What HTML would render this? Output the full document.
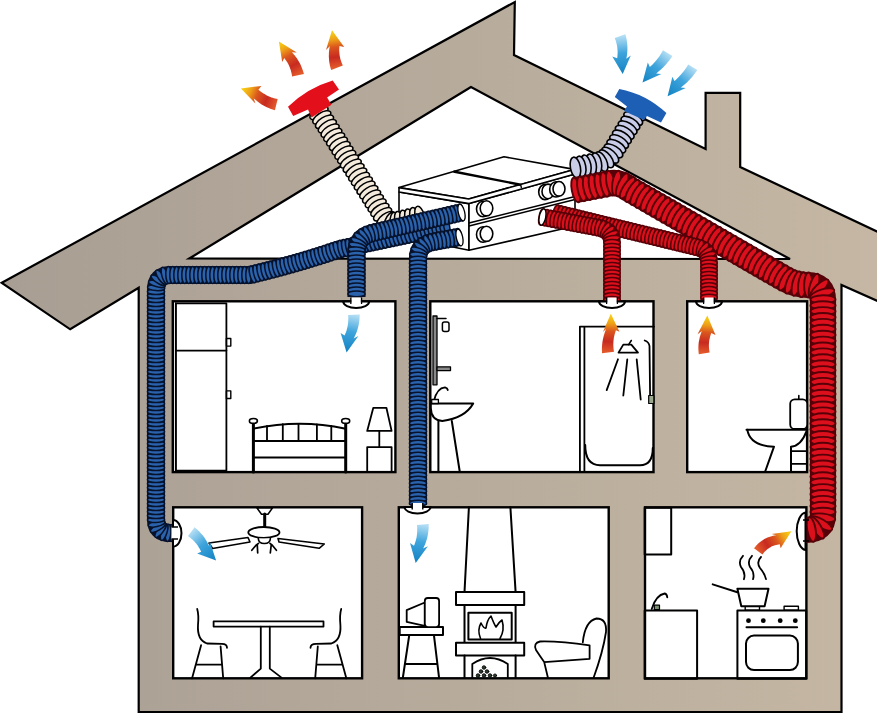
<!DOCTYPE html>
<html><head><meta charset="utf-8">
<style>
html,body{margin:0;padding:0;background:#fff;width:877px;height:713px;overflow:hidden;font-family:"Liberation Sans",sans-serif;}
svg{display:block}
</style></head><body>
<svg width="877" height="713" viewBox="0 0 877 713">
<defs>
<linearGradient id="taupe" x1="0" y1="0" x2="1" y2="0">
<stop offset="0" stop-color="#a89e93"/><stop offset="0.6" stop-color="#b9ad9d"/><stop offset="1" stop-color="#c5b7a3"/>
</linearGradient>
<linearGradient id="ag0" gradientUnits="userSpaceOnUse" x1="276.3" y1="104.7" x2="240.9" y2="88.6"><stop offset="0" stop-color="#e35a2a"/><stop offset="0.28" stop-color="#c82a20"/><stop offset="0.55" stop-color="#da561e"/><stop offset="0.75" stop-color="#eea018"/><stop offset="0.92" stop-color="#f6c814"/></linearGradient>
<linearGradient id="ag1" gradientUnits="userSpaceOnUse" x1="298" y1="75.2" x2="278.9" y2="41.4"><stop offset="0" stop-color="#e35a2a"/><stop offset="0.28" stop-color="#c82a20"/><stop offset="0.55" stop-color="#da561e"/><stop offset="0.75" stop-color="#eea018"/><stop offset="0.92" stop-color="#f6c814"/></linearGradient>
<linearGradient id="ag2" gradientUnits="userSpaceOnUse" x1="337" y1="67.7" x2="332.0" y2="30.2"><stop offset="0" stop-color="#e35a2a"/><stop offset="0.28" stop-color="#c82a20"/><stop offset="0.55" stop-color="#da561e"/><stop offset="0.75" stop-color="#eea018"/><stop offset="0.92" stop-color="#f6c814"/></linearGradient>
<linearGradient id="ag3" gradientUnits="userSpaceOnUse" x1="620" y1="36.1" x2="622.7" y2="74.1"><stop offset="0" stop-color="#b4def4"/><stop offset="0.45" stop-color="#3ea4dc"/><stop offset="1" stop-color="#1282c2"/></linearGradient>
<linearGradient id="ag4" gradientUnits="userSpaceOnUse" x1="667.7" y1="53.1" x2="642.5" y2="82.5"><stop offset="0" stop-color="#b4def4"/><stop offset="0.45" stop-color="#3ea4dc"/><stop offset="1" stop-color="#1282c2"/></linearGradient>
<linearGradient id="ag5" gradientUnits="userSpaceOnUse" x1="692.8" y1="67.2" x2="667.6" y2="96.2"><stop offset="0" stop-color="#b4def4"/><stop offset="0.45" stop-color="#3ea4dc"/><stop offset="1" stop-color="#1282c2"/></linearGradient>
<linearGradient id="ag6" gradientUnits="userSpaceOnUse" x1="353.9" y1="314.7" x2="346.6" y2="352.5"><stop offset="0" stop-color="#b4def4"/><stop offset="0.45" stop-color="#3ea4dc"/><stop offset="1" stop-color="#1282c2"/></linearGradient>
<linearGradient id="ag7" gradientUnits="userSpaceOnUse" x1="191.3" y1="531.7" x2="216.1" y2="560.6"><stop offset="0" stop-color="#b4def4"/><stop offset="0.45" stop-color="#3ea4dc"/><stop offset="1" stop-color="#1282c2"/></linearGradient>
<linearGradient id="ag8" gradientUnits="userSpaceOnUse" x1="422.8" y1="524.5" x2="415.7" y2="562.9"><stop offset="0" stop-color="#b4def4"/><stop offset="0.45" stop-color="#3ea4dc"/><stop offset="1" stop-color="#1282c2"/></linearGradient>
<linearGradient id="ag9" gradientUnits="userSpaceOnUse" x1="608" y1="352.5" x2="610.8" y2="313.8"><stop offset="0" stop-color="#e35a2a"/><stop offset="0.28" stop-color="#c82a20"/><stop offset="0.55" stop-color="#da561e"/><stop offset="0.75" stop-color="#eea018"/><stop offset="0.92" stop-color="#f6c814"/></linearGradient>
<linearGradient id="ag10" gradientUnits="userSpaceOnUse" x1="704.2" y1="353.3" x2="707.3" y2="315.4"><stop offset="0" stop-color="#e35a2a"/><stop offset="0.28" stop-color="#c82a20"/><stop offset="0.55" stop-color="#da561e"/><stop offset="0.75" stop-color="#eea018"/><stop offset="0.92" stop-color="#f6c814"/></linearGradient>
<linearGradient id="ag11" gradientUnits="userSpaceOnUse" x1="758.2" y1="551.4" x2="791.4" y2="531.3"><stop offset="0" stop-color="#e35a2a"/><stop offset="0.28" stop-color="#c82a20"/><stop offset="0.55" stop-color="#da561e"/><stop offset="0.75" stop-color="#eea018"/><stop offset="0.92" stop-color="#f6c814"/></linearGradient>
</defs>
<path d="M1.8,282.8 L514.8,2 L514,55 L705.6,149 L705.6,92.8 L740.2,92.8 L740.2,167 L880,233 L880,302 L841.5,285 L841.5,712 L138.7,712 L138.7,287.7 L70.2,329.3 Z" fill="url(#taupe)" stroke="#000" stroke-width="2.2" stroke-linejoin="miter"/>
<path d="M471,87 L189.3,258.5 L790,259 Z" fill="#fff" stroke="#000" stroke-width="2.2"/>
<g fill="#fff" stroke="#000" stroke-width="2.4">
<rect x="172.8" y="301.3" width="222.6" height="170.8"/>
<rect x="430.3" y="301.3" width="223.2" height="170.8"/>
<rect x="687.2" y="301.3" width="119.9" height="170.8"/>
<rect x="173.2" y="507.3" width="188.9" height="171"/>
<rect x="398.8" y="507.3" width="209.9" height="171"/>
<rect x="645" y="507.3" width="161.4" height="171"/>
</g>
<g fill="#fff" stroke="#000" stroke-width="1.6" stroke-linejoin="round">
<path d="M399,192 L469,203.6 L469,250.3 L399,236 Z"/>
<path d="M469,203.6 L575,174 L575,226 L469,250.3 Z"/>
<path d="M399,187.6 L504,156.8 L574.4,169.4 L468.7,199 Z"/>
<path d="M399,187.6 L399,192 L469,203.6 L575,174 L574.4,169.4 L468.7,199 Z"/>
<path d="M453.5,171.5 L520.6,184.7" fill="none" stroke-width="2.4"/><path d="M520.6,184.7 L521.5,188" fill="none" stroke-width="1.4"/>
<path d="M469,223 L575,196.5 M469,226 L575,199.5" fill="none"/>
<ellipse cx="483" cy="209" rx="6.5" ry="7.8"/><ellipse cx="486.5" cy="208.3" rx="6.3" ry="7.6"/>
<ellipse cx="483" cy="234.5" rx="6.5" ry="7.8"/><ellipse cx="486.5" cy="233.8" rx="6.3" ry="7.6"/>
<ellipse cx="545" cy="192" rx="6.3" ry="7.6"/><ellipse cx="548" cy="191.4" rx="6" ry="7.3"/>
<ellipse cx="556" cy="189.4" rx="6.3" ry="7.6"/><ellipse cx="559" cy="188.8" rx="6" ry="7.3"/>
</g>
<g fill="#f4ebdd" stroke="#000" stroke-width="1.5"><ellipse cx="319.0" cy="113.0" rx="4.6" ry="10.25" transform="rotate(58 319.0 113.0)"/><ellipse cx="321.8" cy="117.4" rx="4.6" ry="10.25" transform="rotate(58 321.8 117.4)"/><ellipse cx="324.5" cy="121.8" rx="4.6" ry="10.25" transform="rotate(58 324.5 121.8)"/><ellipse cx="327.3" cy="126.2" rx="4.6" ry="10.25" transform="rotate(58 327.3 126.2)"/><ellipse cx="330.1" cy="130.6" rx="4.6" ry="10.25" transform="rotate(58 330.1 130.6)"/><ellipse cx="332.8" cy="135.0" rx="4.6" ry="10.25" transform="rotate(58 332.8 135.0)"/><ellipse cx="335.6" cy="139.4" rx="4.6" ry="10.25" transform="rotate(58 335.6 139.4)"/><ellipse cx="338.4" cy="143.8" rx="4.6" ry="10.25" transform="rotate(58 338.4 143.8)"/><ellipse cx="341.1" cy="148.2" rx="4.6" ry="10.25" transform="rotate(58 341.1 148.2)"/><ellipse cx="343.9" cy="152.6" rx="4.6" ry="10.25" transform="rotate(58 343.9 152.6)"/><ellipse cx="346.7" cy="157.0" rx="4.6" ry="10.25" transform="rotate(58 346.7 157.0)"/><ellipse cx="349.4" cy="161.4" rx="4.6" ry="10.25" transform="rotate(58 349.4 161.4)"/><ellipse cx="352.2" cy="165.8" rx="4.6" ry="10.25" transform="rotate(58 352.2 165.8)"/><ellipse cx="355.0" cy="170.2" rx="4.6" ry="10.25" transform="rotate(58 355.0 170.2)"/><ellipse cx="357.7" cy="174.6" rx="4.6" ry="10.25" transform="rotate(58 357.7 174.6)"/><ellipse cx="360.5" cy="179.0" rx="4.6" ry="10.25" transform="rotate(58 360.5 179.0)"/><ellipse cx="363.3" cy="183.4" rx="4.6" ry="10.25" transform="rotate(58 363.3 183.4)"/><ellipse cx="366.0" cy="187.8" rx="4.6" ry="10.25" transform="rotate(58 366.0 187.8)"/><ellipse cx="368.8" cy="192.2" rx="4.6" ry="10.25" transform="rotate(58 368.8 192.2)"/><ellipse cx="371.6" cy="196.6" rx="4.6" ry="10.25" transform="rotate(58 371.6 196.6)"/><ellipse cx="374.3" cy="201.1" rx="4.6" ry="10.25" transform="rotate(58 374.3 201.1)"/><ellipse cx="377.1" cy="205.5" rx="4.6" ry="10.25" transform="rotate(58 377.1 205.5)"/><ellipse cx="379.9" cy="209.9" rx="4.6" ry="10.25" transform="rotate(58 379.9 209.9)"/><ellipse cx="382.6" cy="214.3" rx="4.6" ry="10.25" transform="rotate(58 382.6 214.3)"/><ellipse cx="385.5" cy="218.6" rx="4.6" ry="10.25" transform="rotate(53 385.5 218.6)"/><ellipse cx="389.5" cy="221.8" rx="4.6" ry="10.25" transform="rotate(22 389.5 221.8)"/><ellipse cx="394.6" cy="222.5" rx="4.6" ry="10.25" transform="rotate(-3 394.6 222.5)"/><ellipse cx="399.7" cy="221.5" rx="4.6" ry="10.25" transform="rotate(-15 399.7 221.5)"/><ellipse cx="404.8" cy="220.2" rx="4.6" ry="10.25" transform="rotate(-15 404.8 220.2)"/><ellipse cx="409.8" cy="218.9" rx="4.6" ry="10.25" transform="rotate(-15 409.8 218.9)"/><ellipse cx="414.8" cy="217.6" rx="4.6" ry="10.25" transform="rotate(-15 414.8 217.6)"/><ellipse cx="419.9" cy="216.3" rx="4.6" ry="10.25" transform="rotate(-15 419.9 216.3)"/></g>
<path d="M172,533 L170,533 Q156,533 156,519 L156,290 Q156,275 170,275 L250,275 Q300,263 340,249 L449,226" fill="none" stroke="#07122c" stroke-width="18.099999999999998" stroke-linejoin="round"/><g fill="#2a62ac" stroke="#07122c" stroke-width="1.5"><ellipse cx="172.0" cy="533.0" rx="2.9" ry="8.6" transform="rotate(180 172.0 533.0)"/><ellipse cx="168.0" cy="532.9" rx="2.9" ry="8.6" transform="rotate(-176 168.0 532.9)"/><ellipse cx="164.1" cy="532.2" rx="2.9" ry="8.6" transform="rotate(-162 164.1 532.2)"/><ellipse cx="160.5" cy="530.4" rx="2.9" ry="8.6" transform="rotate(-143 160.5 530.4)"/><ellipse cx="157.9" cy="527.4" rx="2.9" ry="8.6" transform="rotate(-120 157.9 527.4)"/><ellipse cx="156.5" cy="523.7" rx="2.9" ry="8.6" transform="rotate(-103 156.5 523.7)"/><ellipse cx="156.0" cy="519.7" rx="2.9" ry="8.6" transform="rotate(-92 156.0 519.7)"/><ellipse cx="156.0" cy="515.7" rx="2.9" ry="8.6" transform="rotate(-90 156.0 515.7)"/><ellipse cx="156.0" cy="511.7" rx="2.9" ry="8.6" transform="rotate(-90 156.0 511.7)"/><ellipse cx="156.0" cy="507.7" rx="2.9" ry="8.6" transform="rotate(-90 156.0 507.7)"/><ellipse cx="156.0" cy="503.7" rx="2.9" ry="8.6" transform="rotate(-90 156.0 503.7)"/><ellipse cx="156.0" cy="499.7" rx="2.9" ry="8.6" transform="rotate(-90 156.0 499.7)"/><ellipse cx="156.0" cy="495.7" rx="2.9" ry="8.6" transform="rotate(-90 156.0 495.7)"/><ellipse cx="156.0" cy="491.7" rx="2.9" ry="8.6" transform="rotate(-90 156.0 491.7)"/><ellipse cx="156.0" cy="487.7" rx="2.9" ry="8.6" transform="rotate(-90 156.0 487.7)"/><ellipse cx="156.0" cy="483.7" rx="2.9" ry="8.6" transform="rotate(-90 156.0 483.7)"/><ellipse cx="156.0" cy="479.7" rx="2.9" ry="8.6" transform="rotate(-90 156.0 479.7)"/><ellipse cx="156.0" cy="475.7" rx="2.9" ry="8.6" transform="rotate(-90 156.0 475.7)"/><ellipse cx="156.0" cy="471.7" rx="2.9" ry="8.6" transform="rotate(-90 156.0 471.7)"/><ellipse cx="156.0" cy="467.7" rx="2.9" ry="8.6" transform="rotate(-90 156.0 467.7)"/><ellipse cx="156.0" cy="463.7" rx="2.9" ry="8.6" transform="rotate(-90 156.0 463.7)"/><ellipse cx="156.0" cy="459.7" rx="2.9" ry="8.6" transform="rotate(-90 156.0 459.7)"/><ellipse cx="156.0" cy="455.7" rx="2.9" ry="8.6" transform="rotate(-90 156.0 455.7)"/><ellipse cx="156.0" cy="451.7" rx="2.9" ry="8.6" transform="rotate(-90 156.0 451.7)"/><ellipse cx="156.0" cy="447.7" rx="2.9" ry="8.6" transform="rotate(-90 156.0 447.7)"/><ellipse cx="156.0" cy="443.7" rx="2.9" ry="8.6" transform="rotate(-90 156.0 443.7)"/><ellipse cx="156.0" cy="439.7" rx="2.9" ry="8.6" transform="rotate(-90 156.0 439.7)"/><ellipse cx="156.0" cy="435.7" rx="2.9" ry="8.6" transform="rotate(-90 156.0 435.7)"/><ellipse cx="156.0" cy="431.7" rx="2.9" ry="8.6" transform="rotate(-90 156.0 431.7)"/><ellipse cx="156.0" cy="427.7" rx="2.9" ry="8.6" transform="rotate(-90 156.0 427.7)"/><ellipse cx="156.0" cy="423.7" rx="2.9" ry="8.6" transform="rotate(-90 156.0 423.7)"/><ellipse cx="156.0" cy="419.7" rx="2.9" ry="8.6" transform="rotate(-90 156.0 419.7)"/><ellipse cx="156.0" cy="415.7" rx="2.9" ry="8.6" transform="rotate(-90 156.0 415.7)"/><ellipse cx="156.0" cy="411.7" rx="2.9" ry="8.6" transform="rotate(-90 156.0 411.7)"/><ellipse cx="156.0" cy="407.7" rx="2.9" ry="8.6" transform="rotate(-90 156.0 407.7)"/><ellipse cx="156.0" cy="403.7" rx="2.9" ry="8.6" transform="rotate(-90 156.0 403.7)"/><ellipse cx="156.0" cy="399.7" rx="2.9" ry="8.6" transform="rotate(-90 156.0 399.7)"/><ellipse cx="156.0" cy="395.7" rx="2.9" ry="8.6" transform="rotate(-90 156.0 395.7)"/><ellipse cx="156.0" cy="391.7" rx="2.9" ry="8.6" transform="rotate(-90 156.0 391.7)"/><ellipse cx="156.0" cy="387.7" rx="2.9" ry="8.6" transform="rotate(-90 156.0 387.7)"/><ellipse cx="156.0" cy="383.7" rx="2.9" ry="8.6" transform="rotate(-90 156.0 383.7)"/><ellipse cx="156.0" cy="379.7" rx="2.9" ry="8.6" transform="rotate(-90 156.0 379.7)"/><ellipse cx="156.0" cy="375.7" rx="2.9" ry="8.6" transform="rotate(-90 156.0 375.7)"/><ellipse cx="156.0" cy="371.7" rx="2.9" ry="8.6" transform="rotate(-90 156.0 371.7)"/><ellipse cx="156.0" cy="367.7" rx="2.9" ry="8.6" transform="rotate(-90 156.0 367.7)"/><ellipse cx="156.0" cy="363.7" rx="2.9" ry="8.6" transform="rotate(-90 156.0 363.7)"/><ellipse cx="156.0" cy="359.7" rx="2.9" ry="8.6" transform="rotate(-90 156.0 359.7)"/><ellipse cx="156.0" cy="355.7" rx="2.9" ry="8.6" transform="rotate(-90 156.0 355.7)"/><ellipse cx="156.0" cy="351.7" rx="2.9" ry="8.6" transform="rotate(-90 156.0 351.7)"/><ellipse cx="156.0" cy="347.7" rx="2.9" ry="8.6" transform="rotate(-90 156.0 347.7)"/><ellipse cx="156.0" cy="343.7" rx="2.9" ry="8.6" transform="rotate(-90 156.0 343.7)"/><ellipse cx="156.0" cy="339.7" rx="2.9" ry="8.6" transform="rotate(-90 156.0 339.7)"/><ellipse cx="156.0" cy="335.7" rx="2.9" ry="8.6" transform="rotate(-90 156.0 335.7)"/><ellipse cx="156.0" cy="331.7" rx="2.9" ry="8.6" transform="rotate(-90 156.0 331.7)"/><ellipse cx="156.0" cy="327.7" rx="2.9" ry="8.6" transform="rotate(-90 156.0 327.7)"/><ellipse cx="156.0" cy="323.7" rx="2.9" ry="8.6" transform="rotate(-90 156.0 323.7)"/><ellipse cx="156.0" cy="319.7" rx="2.9" ry="8.6" transform="rotate(-90 156.0 319.7)"/><ellipse cx="156.0" cy="315.7" rx="2.9" ry="8.6" transform="rotate(-90 156.0 315.7)"/><ellipse cx="156.0" cy="311.7" rx="2.9" ry="8.6" transform="rotate(-90 156.0 311.7)"/><ellipse cx="156.0" cy="307.7" rx="2.9" ry="8.6" transform="rotate(-90 156.0 307.7)"/><ellipse cx="156.0" cy="303.7" rx="2.9" ry="8.6" transform="rotate(-90 156.0 303.7)"/><ellipse cx="156.0" cy="299.7" rx="2.9" ry="8.6" transform="rotate(-90 156.0 299.7)"/><ellipse cx="156.0" cy="295.7" rx="2.9" ry="8.6" transform="rotate(-90 156.0 295.7)"/><ellipse cx="156.0" cy="291.7" rx="2.9" ry="8.6" transform="rotate(-90 156.0 291.7)"/><ellipse cx="156.1" cy="287.7" rx="2.9" ry="8.6" transform="rotate(-86 156.1 287.7)"/><ellipse cx="156.8" cy="283.8" rx="2.9" ry="8.6" transform="rotate(-74 156.8 283.8)"/><ellipse cx="158.4" cy="280.2" rx="2.9" ry="8.6" transform="rotate(-57 158.4 280.2)"/><ellipse cx="161.2" cy="277.3" rx="2.9" ry="8.6" transform="rotate(-35 161.2 277.3)"/><ellipse cx="164.8" cy="275.6" rx="2.9" ry="8.6" transform="rotate(-16 164.8 275.6)"/><ellipse cx="168.7" cy="275.0" rx="2.9" ry="8.6" transform="rotate(-3 168.7 275.0)"/><ellipse cx="172.7" cy="275.0" rx="2.9" ry="8.6" transform="rotate(0 172.7 275.0)"/><ellipse cx="176.7" cy="275.0" rx="2.9" ry="8.6" transform="rotate(0 176.7 275.0)"/><ellipse cx="180.7" cy="275.0" rx="2.9" ry="8.6" transform="rotate(0 180.7 275.0)"/><ellipse cx="184.7" cy="275.0" rx="2.9" ry="8.6" transform="rotate(0 184.7 275.0)"/><ellipse cx="188.7" cy="275.0" rx="2.9" ry="8.6" transform="rotate(0 188.7 275.0)"/><ellipse cx="192.7" cy="275.0" rx="2.9" ry="8.6" transform="rotate(0 192.7 275.0)"/><ellipse cx="196.7" cy="275.0" rx="2.9" ry="8.6" transform="rotate(0 196.7 275.0)"/><ellipse cx="200.7" cy="275.0" rx="2.9" ry="8.6" transform="rotate(0 200.7 275.0)"/><ellipse cx="204.7" cy="275.0" rx="2.9" ry="8.6" transform="rotate(0 204.7 275.0)"/><ellipse cx="208.7" cy="275.0" rx="2.9" ry="8.6" transform="rotate(0 208.7 275.0)"/><ellipse cx="212.7" cy="275.0" rx="2.9" ry="8.6" transform="rotate(0 212.7 275.0)"/><ellipse cx="216.7" cy="275.0" rx="2.9" ry="8.6" transform="rotate(0 216.7 275.0)"/><ellipse cx="220.7" cy="275.0" rx="2.9" ry="8.6" transform="rotate(0 220.7 275.0)"/><ellipse cx="224.7" cy="275.0" rx="2.9" ry="8.6" transform="rotate(0 224.7 275.0)"/><ellipse cx="228.7" cy="275.0" rx="2.9" ry="8.6" transform="rotate(0 228.7 275.0)"/><ellipse cx="232.7" cy="275.0" rx="2.9" ry="8.6" transform="rotate(0 232.7 275.0)"/><ellipse cx="236.7" cy="275.0" rx="2.9" ry="8.6" transform="rotate(0 236.7 275.0)"/><ellipse cx="240.7" cy="275.0" rx="2.9" ry="8.6" transform="rotate(0 240.7 275.0)"/><ellipse cx="244.7" cy="275.0" rx="2.9" ry="8.6" transform="rotate(0 244.7 275.0)"/><ellipse cx="248.7" cy="275.0" rx="2.9" ry="8.6" transform="rotate(0 248.7 275.0)"/><ellipse cx="252.7" cy="274.4" rx="2.9" ry="8.6" transform="rotate(-14 252.7 274.4)"/><ellipse cx="256.5" cy="273.4" rx="2.9" ry="8.6" transform="rotate(-14 256.5 273.4)"/><ellipse cx="260.4" cy="272.4" rx="2.9" ry="8.6" transform="rotate(-14 260.4 272.4)"/><ellipse cx="264.3" cy="271.5" rx="2.9" ry="8.6" transform="rotate(-14 264.3 271.5)"/><ellipse cx="268.2" cy="270.5" rx="2.9" ry="8.6" transform="rotate(-14 268.2 270.5)"/><ellipse cx="272.1" cy="269.5" rx="2.9" ry="8.6" transform="rotate(-15 272.1 269.5)"/><ellipse cx="275.9" cy="268.5" rx="2.9" ry="8.6" transform="rotate(-15 275.9 268.5)"/><ellipse cx="279.8" cy="267.4" rx="2.9" ry="8.6" transform="rotate(-15 279.8 267.4)"/><ellipse cx="283.6" cy="266.4" rx="2.9" ry="8.6" transform="rotate(-15 283.6 266.4)"/><ellipse cx="287.5" cy="265.3" rx="2.9" ry="8.6" transform="rotate(-16 287.5 265.3)"/><ellipse cx="291.4" cy="264.3" rx="2.9" ry="8.6" transform="rotate(-16 291.4 264.3)"/><ellipse cx="295.2" cy="263.2" rx="2.9" ry="8.6" transform="rotate(-16 295.2 263.2)"/><ellipse cx="299.0" cy="262.1" rx="2.9" ry="8.6" transform="rotate(-16 299.0 262.1)"/><ellipse cx="302.9" cy="260.9" rx="2.9" ry="8.6" transform="rotate(-16 302.9 260.9)"/><ellipse cx="306.7" cy="259.8" rx="2.9" ry="8.6" transform="rotate(-17 306.7 259.8)"/><ellipse cx="310.5" cy="258.6" rx="2.9" ry="8.6" transform="rotate(-17 310.5 258.6)"/><ellipse cx="314.4" cy="257.4" rx="2.9" ry="8.6" transform="rotate(-17 314.4 257.4)"/><ellipse cx="318.2" cy="256.3" rx="2.9" ry="8.6" transform="rotate(-18 318.2 256.3)"/><ellipse cx="322.0" cy="255.0" rx="2.9" ry="8.6" transform="rotate(-18 322.0 255.0)"/><ellipse cx="325.8" cy="253.8" rx="2.9" ry="8.6" transform="rotate(-18 325.8 253.8)"/><ellipse cx="329.6" cy="252.5" rx="2.9" ry="8.6" transform="rotate(-18 329.6 252.5)"/><ellipse cx="333.4" cy="251.3" rx="2.9" ry="8.6" transform="rotate(-19 333.4 251.3)"/><ellipse cx="337.2" cy="250.0" rx="2.9" ry="8.6" transform="rotate(-19 337.2 250.0)"/><ellipse cx="341.0" cy="248.8" rx="2.9" ry="8.6" transform="rotate(-12 341.0 248.8)"/><ellipse cx="344.9" cy="248.0" rx="2.9" ry="8.6" transform="rotate(-12 344.9 248.0)"/><ellipse cx="348.8" cy="247.1" rx="2.9" ry="8.6" transform="rotate(-12 348.8 247.1)"/><ellipse cx="352.7" cy="246.3" rx="2.9" ry="8.6" transform="rotate(-12 352.7 246.3)"/><ellipse cx="356.6" cy="245.5" rx="2.9" ry="8.6" transform="rotate(-12 356.6 245.5)"/><ellipse cx="360.6" cy="244.7" rx="2.9" ry="8.6" transform="rotate(-12 360.6 244.7)"/><ellipse cx="364.5" cy="243.8" rx="2.9" ry="8.6" transform="rotate(-12 364.5 243.8)"/><ellipse cx="368.4" cy="243.0" rx="2.9" ry="8.6" transform="rotate(-12 368.4 243.0)"/><ellipse cx="372.3" cy="242.2" rx="2.9" ry="8.6" transform="rotate(-12 372.3 242.2)"/><ellipse cx="376.2" cy="241.4" rx="2.9" ry="8.6" transform="rotate(-12 376.2 241.4)"/><ellipse cx="380.1" cy="240.5" rx="2.9" ry="8.6" transform="rotate(-12 380.1 240.5)"/><ellipse cx="384.0" cy="239.7" rx="2.9" ry="8.6" transform="rotate(-12 384.0 239.7)"/><ellipse cx="388.0" cy="238.9" rx="2.9" ry="8.6" transform="rotate(-12 388.0 238.9)"/><ellipse cx="391.9" cy="238.1" rx="2.9" ry="8.6" transform="rotate(-12 391.9 238.1)"/><ellipse cx="395.8" cy="237.2" rx="2.9" ry="8.6" transform="rotate(-12 395.8 237.2)"/><ellipse cx="399.7" cy="236.4" rx="2.9" ry="8.6" transform="rotate(-12 399.7 236.4)"/><ellipse cx="403.6" cy="235.6" rx="2.9" ry="8.6" transform="rotate(-12 403.6 235.6)"/><ellipse cx="407.5" cy="234.8" rx="2.9" ry="8.6" transform="rotate(-12 407.5 234.8)"/><ellipse cx="411.4" cy="233.9" rx="2.9" ry="8.6" transform="rotate(-12 411.4 233.9)"/><ellipse cx="415.4" cy="233.1" rx="2.9" ry="8.6" transform="rotate(-12 415.4 233.1)"/><ellipse cx="419.3" cy="232.3" rx="2.9" ry="8.6" transform="rotate(-12 419.3 232.3)"/><ellipse cx="423.2" cy="231.4" rx="2.9" ry="8.6" transform="rotate(-12 423.2 231.4)"/><ellipse cx="427.1" cy="230.6" rx="2.9" ry="8.6" transform="rotate(-12 427.1 230.6)"/><ellipse cx="431.0" cy="229.8" rx="2.9" ry="8.6" transform="rotate(-12 431.0 229.8)"/><ellipse cx="434.9" cy="229.0" rx="2.9" ry="8.6" transform="rotate(-12 434.9 229.0)"/><ellipse cx="438.8" cy="228.1" rx="2.9" ry="8.6" transform="rotate(-12 438.8 228.1)"/><ellipse cx="442.8" cy="227.3" rx="2.9" ry="8.6" transform="rotate(-12 442.8 227.3)"/><ellipse cx="446.7" cy="226.5" rx="2.9" ry="8.6" transform="rotate(-12 446.7 226.5)"/></g>
<path d="M461,212.5 L372,233 Q356.5,237 356.5,252 L356.5,297" fill="none" stroke="#07122c" stroke-width="18.099999999999998" stroke-linejoin="round"/><g fill="#2a62ac" stroke="#07122c" stroke-width="1.5"><ellipse cx="461.0" cy="212.5" rx="2.9" ry="8.6" transform="rotate(167 461.0 212.5)"/><ellipse cx="457.1" cy="213.4" rx="2.9" ry="8.6" transform="rotate(167 457.1 213.4)"/><ellipse cx="453.2" cy="214.3" rx="2.9" ry="8.6" transform="rotate(167 453.2 214.3)"/><ellipse cx="449.3" cy="215.2" rx="2.9" ry="8.6" transform="rotate(167 449.3 215.2)"/><ellipse cx="445.4" cy="216.1" rx="2.9" ry="8.6" transform="rotate(167 445.4 216.1)"/><ellipse cx="441.5" cy="217.0" rx="2.9" ry="8.6" transform="rotate(167 441.5 217.0)"/><ellipse cx="437.6" cy="217.9" rx="2.9" ry="8.6" transform="rotate(167 437.6 217.9)"/><ellipse cx="433.7" cy="218.8" rx="2.9" ry="8.6" transform="rotate(167 433.7 218.8)"/><ellipse cx="429.8" cy="219.7" rx="2.9" ry="8.6" transform="rotate(167 429.8 219.7)"/><ellipse cx="425.9" cy="220.6" rx="2.9" ry="8.6" transform="rotate(167 425.9 220.6)"/><ellipse cx="422.0" cy="221.5" rx="2.9" ry="8.6" transform="rotate(167 422.0 221.5)"/><ellipse cx="418.1" cy="222.4" rx="2.9" ry="8.6" transform="rotate(167 418.1 222.4)"/><ellipse cx="414.2" cy="223.3" rx="2.9" ry="8.6" transform="rotate(167 414.2 223.3)"/><ellipse cx="410.3" cy="224.2" rx="2.9" ry="8.6" transform="rotate(167 410.3 224.2)"/><ellipse cx="406.4" cy="225.1" rx="2.9" ry="8.6" transform="rotate(167 406.4 225.1)"/><ellipse cx="402.5" cy="226.0" rx="2.9" ry="8.6" transform="rotate(167 402.5 226.0)"/><ellipse cx="398.6" cy="226.9" rx="2.9" ry="8.6" transform="rotate(167 398.6 226.9)"/><ellipse cx="394.7" cy="227.8" rx="2.9" ry="8.6" transform="rotate(167 394.7 227.8)"/><ellipse cx="390.8" cy="228.7" rx="2.9" ry="8.6" transform="rotate(167 390.8 228.7)"/><ellipse cx="386.9" cy="229.6" rx="2.9" ry="8.6" transform="rotate(167 386.9 229.6)"/><ellipse cx="383.0" cy="230.5" rx="2.9" ry="8.6" transform="rotate(167 383.0 230.5)"/><ellipse cx="379.1" cy="231.4" rx="2.9" ry="8.6" transform="rotate(167 379.1 231.4)"/><ellipse cx="375.2" cy="232.3" rx="2.9" ry="8.6" transform="rotate(167 375.2 232.3)"/><ellipse cx="371.4" cy="233.2" rx="2.9" ry="8.6" transform="rotate(164 371.4 233.2)"/><ellipse cx="367.6" cy="234.5" rx="2.9" ry="8.6" transform="rotate(157 367.6 234.5)"/><ellipse cx="364.1" cy="236.4" rx="2.9" ry="8.6" transform="rotate(146 364.1 236.4)"/><ellipse cx="361.0" cy="239.0" rx="2.9" ry="8.6" transform="rotate(133 361.0 239.0)"/><ellipse cx="358.7" cy="242.2" rx="2.9" ry="8.6" transform="rotate(118 358.7 242.2)"/><ellipse cx="357.2" cy="245.9" rx="2.9" ry="8.6" transform="rotate(105 357.2 245.9)"/><ellipse cx="356.6" cy="249.9" rx="2.9" ry="8.6" transform="rotate(95 356.6 249.9)"/><ellipse cx="356.5" cy="253.9" rx="2.9" ry="8.6" transform="rotate(90 356.5 253.9)"/><ellipse cx="356.5" cy="257.9" rx="2.9" ry="8.6" transform="rotate(90 356.5 257.9)"/><ellipse cx="356.5" cy="261.9" rx="2.9" ry="8.6" transform="rotate(90 356.5 261.9)"/><ellipse cx="356.5" cy="265.9" rx="2.9" ry="8.6" transform="rotate(90 356.5 265.9)"/><ellipse cx="356.5" cy="269.9" rx="2.9" ry="8.6" transform="rotate(90 356.5 269.9)"/><ellipse cx="356.5" cy="273.9" rx="2.9" ry="8.6" transform="rotate(90 356.5 273.9)"/><ellipse cx="356.5" cy="277.9" rx="2.9" ry="8.6" transform="rotate(90 356.5 277.9)"/><ellipse cx="356.5" cy="281.9" rx="2.9" ry="8.6" transform="rotate(90 356.5 281.9)"/><ellipse cx="356.5" cy="285.9" rx="2.9" ry="8.6" transform="rotate(90 356.5 285.9)"/><ellipse cx="356.5" cy="289.9" rx="2.9" ry="8.6" transform="rotate(90 356.5 289.9)"/><ellipse cx="356.5" cy="293.9" rx="2.9" ry="8.6" transform="rotate(90 356.5 293.9)"/></g>
<path d="M459,237 L432,242 Q418,245 418,258 L418,505" fill="none" stroke="#07122c" stroke-width="18.099999999999998" stroke-linejoin="round"/><g fill="#2a62ac" stroke="#07122c" stroke-width="1.5"><ellipse cx="459.0" cy="237.0" rx="2.9" ry="8.6" transform="rotate(170 459.0 237.0)"/><ellipse cx="455.1" cy="237.7" rx="2.9" ry="8.6" transform="rotate(170 455.1 237.7)"/><ellipse cx="451.1" cy="238.5" rx="2.9" ry="8.6" transform="rotate(170 451.1 238.5)"/><ellipse cx="447.2" cy="239.2" rx="2.9" ry="8.6" transform="rotate(170 447.2 239.2)"/><ellipse cx="443.3" cy="239.9" rx="2.9" ry="8.6" transform="rotate(170 443.3 239.9)"/><ellipse cx="439.3" cy="240.6" rx="2.9" ry="8.6" transform="rotate(170 439.3 240.6)"/><ellipse cx="435.4" cy="241.4" rx="2.9" ry="8.6" transform="rotate(170 435.4 241.4)"/><ellipse cx="431.5" cy="242.1" rx="2.9" ry="8.6" transform="rotate(167 431.5 242.1)"/><ellipse cx="427.7" cy="243.3" rx="2.9" ry="8.6" transform="rotate(158 427.7 243.3)"/><ellipse cx="424.1" cy="245.2" rx="2.9" ry="8.6" transform="rotate(145 424.1 245.2)"/><ellipse cx="421.2" cy="247.9" rx="2.9" ry="8.6" transform="rotate(129 421.2 247.9)"/><ellipse cx="419.2" cy="251.3" rx="2.9" ry="8.6" transform="rotate(112 419.2 251.3)"/><ellipse cx="418.2" cy="255.2" rx="2.9" ry="8.6" transform="rotate(98 418.2 255.2)"/><ellipse cx="418.0" cy="259.2" rx="2.9" ry="8.6" transform="rotate(90 418.0 259.2)"/><ellipse cx="418.0" cy="263.2" rx="2.9" ry="8.6" transform="rotate(90 418.0 263.2)"/><ellipse cx="418.0" cy="267.2" rx="2.9" ry="8.6" transform="rotate(90 418.0 267.2)"/><ellipse cx="418.0" cy="271.2" rx="2.9" ry="8.6" transform="rotate(90 418.0 271.2)"/><ellipse cx="418.0" cy="275.2" rx="2.9" ry="8.6" transform="rotate(90 418.0 275.2)"/><ellipse cx="418.0" cy="279.2" rx="2.9" ry="8.6" transform="rotate(90 418.0 279.2)"/><ellipse cx="418.0" cy="283.2" rx="2.9" ry="8.6" transform="rotate(90 418.0 283.2)"/><ellipse cx="418.0" cy="287.2" rx="2.9" ry="8.6" transform="rotate(90 418.0 287.2)"/><ellipse cx="418.0" cy="291.2" rx="2.9" ry="8.6" transform="rotate(90 418.0 291.2)"/><ellipse cx="418.0" cy="295.2" rx="2.9" ry="8.6" transform="rotate(90 418.0 295.2)"/><ellipse cx="418.0" cy="299.2" rx="2.9" ry="8.6" transform="rotate(90 418.0 299.2)"/><ellipse cx="418.0" cy="303.2" rx="2.9" ry="8.6" transform="rotate(90 418.0 303.2)"/><ellipse cx="418.0" cy="307.2" rx="2.9" ry="8.6" transform="rotate(90 418.0 307.2)"/><ellipse cx="418.0" cy="311.2" rx="2.9" ry="8.6" transform="rotate(90 418.0 311.2)"/><ellipse cx="418.0" cy="315.2" rx="2.9" ry="8.6" transform="rotate(90 418.0 315.2)"/><ellipse cx="418.0" cy="319.2" rx="2.9" ry="8.6" transform="rotate(90 418.0 319.2)"/><ellipse cx="418.0" cy="323.2" rx="2.9" ry="8.6" transform="rotate(90 418.0 323.2)"/><ellipse cx="418.0" cy="327.2" rx="2.9" ry="8.6" transform="rotate(90 418.0 327.2)"/><ellipse cx="418.0" cy="331.2" rx="2.9" ry="8.6" transform="rotate(90 418.0 331.2)"/><ellipse cx="418.0" cy="335.2" rx="2.9" ry="8.6" transform="rotate(90 418.0 335.2)"/><ellipse cx="418.0" cy="339.2" rx="2.9" ry="8.6" transform="rotate(90 418.0 339.2)"/><ellipse cx="418.0" cy="343.2" rx="2.9" ry="8.6" transform="rotate(90 418.0 343.2)"/><ellipse cx="418.0" cy="347.2" rx="2.9" ry="8.6" transform="rotate(90 418.0 347.2)"/><ellipse cx="418.0" cy="351.2" rx="2.9" ry="8.6" transform="rotate(90 418.0 351.2)"/><ellipse cx="418.0" cy="355.2" rx="2.9" ry="8.6" transform="rotate(90 418.0 355.2)"/><ellipse cx="418.0" cy="359.2" rx="2.9" ry="8.6" transform="rotate(90 418.0 359.2)"/><ellipse cx="418.0" cy="363.2" rx="2.9" ry="8.6" transform="rotate(90 418.0 363.2)"/><ellipse cx="418.0" cy="367.2" rx="2.9" ry="8.6" transform="rotate(90 418.0 367.2)"/><ellipse cx="418.0" cy="371.2" rx="2.9" ry="8.6" transform="rotate(90 418.0 371.2)"/><ellipse cx="418.0" cy="375.2" rx="2.9" ry="8.6" transform="rotate(90 418.0 375.2)"/><ellipse cx="418.0" cy="379.2" rx="2.9" ry="8.6" transform="rotate(90 418.0 379.2)"/><ellipse cx="418.0" cy="383.2" rx="2.9" ry="8.6" transform="rotate(90 418.0 383.2)"/><ellipse cx="418.0" cy="387.2" rx="2.9" ry="8.6" transform="rotate(90 418.0 387.2)"/><ellipse cx="418.0" cy="391.2" rx="2.9" ry="8.6" transform="rotate(90 418.0 391.2)"/><ellipse cx="418.0" cy="395.2" rx="2.9" ry="8.6" transform="rotate(90 418.0 395.2)"/><ellipse cx="418.0" cy="399.2" rx="2.9" ry="8.6" transform="rotate(90 418.0 399.2)"/><ellipse cx="418.0" cy="403.2" rx="2.9" ry="8.6" transform="rotate(90 418.0 403.2)"/><ellipse cx="418.0" cy="407.2" rx="2.9" ry="8.6" transform="rotate(90 418.0 407.2)"/><ellipse cx="418.0" cy="411.2" rx="2.9" ry="8.6" transform="rotate(90 418.0 411.2)"/><ellipse cx="418.0" cy="415.2" rx="2.9" ry="8.6" transform="rotate(90 418.0 415.2)"/><ellipse cx="418.0" cy="419.2" rx="2.9" ry="8.6" transform="rotate(90 418.0 419.2)"/><ellipse cx="418.0" cy="423.2" rx="2.9" ry="8.6" transform="rotate(90 418.0 423.2)"/><ellipse cx="418.0" cy="427.2" rx="2.9" ry="8.6" transform="rotate(90 418.0 427.2)"/><ellipse cx="418.0" cy="431.2" rx="2.9" ry="8.6" transform="rotate(90 418.0 431.2)"/><ellipse cx="418.0" cy="435.2" rx="2.9" ry="8.6" transform="rotate(90 418.0 435.2)"/><ellipse cx="418.0" cy="439.2" rx="2.9" ry="8.6" transform="rotate(90 418.0 439.2)"/><ellipse cx="418.0" cy="443.2" rx="2.9" ry="8.6" transform="rotate(90 418.0 443.2)"/><ellipse cx="418.0" cy="447.2" rx="2.9" ry="8.6" transform="rotate(90 418.0 447.2)"/><ellipse cx="418.0" cy="451.2" rx="2.9" ry="8.6" transform="rotate(90 418.0 451.2)"/><ellipse cx="418.0" cy="455.2" rx="2.9" ry="8.6" transform="rotate(90 418.0 455.2)"/><ellipse cx="418.0" cy="459.2" rx="2.9" ry="8.6" transform="rotate(90 418.0 459.2)"/><ellipse cx="418.0" cy="463.2" rx="2.9" ry="8.6" transform="rotate(90 418.0 463.2)"/><ellipse cx="418.0" cy="467.2" rx="2.9" ry="8.6" transform="rotate(90 418.0 467.2)"/><ellipse cx="418.0" cy="471.2" rx="2.9" ry="8.6" transform="rotate(90 418.0 471.2)"/><ellipse cx="418.0" cy="475.2" rx="2.9" ry="8.6" transform="rotate(90 418.0 475.2)"/><ellipse cx="418.0" cy="479.2" rx="2.9" ry="8.6" transform="rotate(90 418.0 479.2)"/><ellipse cx="418.0" cy="483.2" rx="2.9" ry="8.6" transform="rotate(90 418.0 483.2)"/><ellipse cx="418.0" cy="487.2" rx="2.9" ry="8.6" transform="rotate(90 418.0 487.2)"/><ellipse cx="418.0" cy="491.2" rx="2.9" ry="8.6" transform="rotate(90 418.0 491.2)"/><ellipse cx="418.0" cy="495.2" rx="2.9" ry="8.6" transform="rotate(90 418.0 495.2)"/><ellipse cx="418.0" cy="499.2" rx="2.9" ry="8.6" transform="rotate(90 418.0 499.2)"/><ellipse cx="418.0" cy="503.2" rx="2.9" ry="8.6" transform="rotate(90 418.0 503.2)"/></g>
<g fill="#c9cde8" stroke="#000" stroke-width="1.6"><ellipse cx="636.0" cy="114.0" rx="5.0" ry="10.5" transform="rotate(121 636.0 114.0)"/><ellipse cx="633.2" cy="118.6" rx="5.0" ry="10.5" transform="rotate(121 633.2 118.6)"/><ellipse cx="630.4" cy="123.2" rx="5.0" ry="10.5" transform="rotate(121 630.4 123.2)"/><ellipse cx="627.6" cy="127.8" rx="5.0" ry="10.5" transform="rotate(121 627.6 127.8)"/><ellipse cx="624.7" cy="132.4" rx="5.0" ry="10.5" transform="rotate(121 624.7 132.4)"/><ellipse cx="621.9" cy="137.0" rx="5.0" ry="10.5" transform="rotate(121 621.9 137.0)"/><ellipse cx="619.1" cy="141.6" rx="5.0" ry="10.5" transform="rotate(121 619.1 141.6)"/><ellipse cx="616.3" cy="146.3" rx="5.0" ry="10.5" transform="rotate(121 616.3 146.3)"/><ellipse cx="613.5" cy="150.9" rx="5.0" ry="10.5" transform="rotate(122 613.5 150.9)"/><ellipse cx="610.2" cy="155.2" rx="5.0" ry="10.5" transform="rotate(132 610.2 155.2)"/><ellipse cx="606.3" cy="158.8" rx="5.0" ry="10.5" transform="rotate(143 606.3 158.8)"/><ellipse cx="601.6" cy="161.6" rx="5.0" ry="10.5" transform="rotate(155 601.6 161.6)"/><ellipse cx="596.5" cy="163.3" rx="5.0" ry="10.5" transform="rotate(169 596.5 163.3)"/><ellipse cx="591.2" cy="164.4" rx="5.0" ry="10.5" transform="rotate(169 591.2 164.4)"/><ellipse cx="585.9" cy="165.4" rx="5.0" ry="10.5" transform="rotate(169 585.9 165.4)"/><ellipse cx="580.7" cy="166.5" rx="5.0" ry="10.5" transform="rotate(169 580.7 166.5)"/><ellipse cx="575.4" cy="167.5" rx="5.0" ry="10.5" transform="rotate(169 575.4 167.5)"/></g>
<path d="M576,190 L612,183 Q620,182 630,189.5 L786,279.5 Q796,285 808,285 Q823,285 823,300 L823,515 Q823,530 806,530" fill="none" stroke="#580008" stroke-width="26.14" stroke-linejoin="round"/><g fill="#dc101c" stroke="#580008" stroke-width="1.9"><ellipse cx="576.0" cy="190.0" rx="4.2" ry="12.5" transform="rotate(-11 576.0 190.0)"/><ellipse cx="581.8" cy="188.9" rx="4.2" ry="12.5" transform="rotate(-11 581.8 188.9)"/><ellipse cx="587.6" cy="187.7" rx="4.2" ry="12.5" transform="rotate(-11 587.6 187.7)"/><ellipse cx="593.4" cy="186.6" rx="4.2" ry="12.5" transform="rotate(-11 593.4 186.6)"/><ellipse cx="599.2" cy="185.5" rx="4.2" ry="12.5" transform="rotate(-11 599.2 185.5)"/><ellipse cx="605.0" cy="184.4" rx="4.2" ry="12.5" transform="rotate(-11 605.0 184.4)"/><ellipse cx="610.7" cy="183.2" rx="4.2" ry="12.5" transform="rotate(-11 610.7 183.2)"/><ellipse cx="616.6" cy="183.1" rx="4.2" ry="12.5" transform="rotate(9 616.6 183.1)"/><ellipse cx="622.2" cy="184.8" rx="4.2" ry="12.5" transform="rotate(24 622.2 184.8)"/><ellipse cx="627.4" cy="187.7" rx="4.2" ry="12.5" transform="rotate(33 627.4 187.7)"/><ellipse cx="632.4" cy="190.9" rx="4.2" ry="12.5" transform="rotate(30 632.4 190.9)"/><ellipse cx="637.5" cy="193.8" rx="4.2" ry="12.5" transform="rotate(30 637.5 193.8)"/><ellipse cx="642.6" cy="196.8" rx="4.2" ry="12.5" transform="rotate(30 642.6 196.8)"/><ellipse cx="647.7" cy="199.7" rx="4.2" ry="12.5" transform="rotate(30 647.7 199.7)"/><ellipse cx="652.8" cy="202.7" rx="4.2" ry="12.5" transform="rotate(30 652.8 202.7)"/><ellipse cx="657.9" cy="205.6" rx="4.2" ry="12.5" transform="rotate(30 657.9 205.6)"/><ellipse cx="663.0" cy="208.5" rx="4.2" ry="12.5" transform="rotate(30 663.0 208.5)"/><ellipse cx="668.1" cy="211.5" rx="4.2" ry="12.5" transform="rotate(30 668.1 211.5)"/><ellipse cx="673.2" cy="214.4" rx="4.2" ry="12.5" transform="rotate(30 673.2 214.4)"/><ellipse cx="678.3" cy="217.4" rx="4.2" ry="12.5" transform="rotate(30 678.3 217.4)"/><ellipse cx="683.5" cy="220.3" rx="4.2" ry="12.5" transform="rotate(30 683.5 220.3)"/><ellipse cx="688.6" cy="223.3" rx="4.2" ry="12.5" transform="rotate(30 688.6 223.3)"/><ellipse cx="693.7" cy="226.2" rx="4.2" ry="12.5" transform="rotate(30 693.7 226.2)"/><ellipse cx="698.8" cy="229.2" rx="4.2" ry="12.5" transform="rotate(30 698.8 229.2)"/><ellipse cx="703.9" cy="232.1" rx="4.2" ry="12.5" transform="rotate(30 703.9 232.1)"/><ellipse cx="709.0" cy="235.1" rx="4.2" ry="12.5" transform="rotate(30 709.0 235.1)"/><ellipse cx="714.1" cy="238.0" rx="4.2" ry="12.5" transform="rotate(30 714.1 238.0)"/><ellipse cx="719.2" cy="241.0" rx="4.2" ry="12.5" transform="rotate(30 719.2 241.0)"/><ellipse cx="724.3" cy="243.9" rx="4.2" ry="12.5" transform="rotate(30 724.3 243.9)"/><ellipse cx="729.5" cy="246.9" rx="4.2" ry="12.5" transform="rotate(30 729.5 246.9)"/><ellipse cx="734.6" cy="249.8" rx="4.2" ry="12.5" transform="rotate(30 734.6 249.8)"/><ellipse cx="739.7" cy="252.8" rx="4.2" ry="12.5" transform="rotate(30 739.7 252.8)"/><ellipse cx="744.8" cy="255.7" rx="4.2" ry="12.5" transform="rotate(30 744.8 255.7)"/><ellipse cx="749.9" cy="258.7" rx="4.2" ry="12.5" transform="rotate(30 749.9 258.7)"/><ellipse cx="755.0" cy="261.6" rx="4.2" ry="12.5" transform="rotate(30 755.0 261.6)"/><ellipse cx="760.1" cy="264.6" rx="4.2" ry="12.5" transform="rotate(30 760.1 264.6)"/><ellipse cx="765.2" cy="267.5" rx="4.2" ry="12.5" transform="rotate(30 765.2 267.5)"/><ellipse cx="770.3" cy="270.5" rx="4.2" ry="12.5" transform="rotate(30 770.3 270.5)"/><ellipse cx="775.4" cy="273.4" rx="4.2" ry="12.5" transform="rotate(30 775.4 273.4)"/><ellipse cx="780.6" cy="276.4" rx="4.2" ry="12.5" transform="rotate(30 780.6 276.4)"/><ellipse cx="785.7" cy="279.3" rx="4.2" ry="12.5" transform="rotate(30 785.7 279.3)"/><ellipse cx="791.0" cy="281.9" rx="4.2" ry="12.5" transform="rotate(22 791.0 281.9)"/><ellipse cx="796.6" cy="283.6" rx="4.2" ry="12.5" transform="rotate(14 796.6 283.6)"/><ellipse cx="802.4" cy="284.7" rx="4.2" ry="12.5" transform="rotate(6 802.4 284.7)"/><ellipse cx="808.3" cy="285.0" rx="4.2" ry="12.5" transform="rotate(1 808.3 285.0)"/><ellipse cx="814.1" cy="285.8" rx="4.2" ry="12.5" transform="rotate(17 814.1 285.8)"/><ellipse cx="819.2" cy="288.7" rx="4.2" ry="12.5" transform="rotate(45 819.2 288.7)"/><ellipse cx="822.2" cy="293.7" rx="4.2" ry="12.5" transform="rotate(73 822.2 293.7)"/><ellipse cx="823.0" cy="299.5" rx="4.2" ry="12.5" transform="rotate(89 823.0 299.5)"/><ellipse cx="823.0" cy="305.4" rx="4.2" ry="12.5" transform="rotate(90 823.0 305.4)"/><ellipse cx="823.0" cy="311.3" rx="4.2" ry="12.5" transform="rotate(90 823.0 311.3)"/><ellipse cx="823.0" cy="317.2" rx="4.2" ry="12.5" transform="rotate(90 823.0 317.2)"/><ellipse cx="823.0" cy="323.1" rx="4.2" ry="12.5" transform="rotate(90 823.0 323.1)"/><ellipse cx="823.0" cy="329.0" rx="4.2" ry="12.5" transform="rotate(90 823.0 329.0)"/><ellipse cx="823.0" cy="334.9" rx="4.2" ry="12.5" transform="rotate(90 823.0 334.9)"/><ellipse cx="823.0" cy="340.8" rx="4.2" ry="12.5" transform="rotate(90 823.0 340.8)"/><ellipse cx="823.0" cy="346.7" rx="4.2" ry="12.5" transform="rotate(90 823.0 346.7)"/><ellipse cx="823.0" cy="352.6" rx="4.2" ry="12.5" transform="rotate(90 823.0 352.6)"/><ellipse cx="823.0" cy="358.5" rx="4.2" ry="12.5" transform="rotate(90 823.0 358.5)"/><ellipse cx="823.0" cy="364.4" rx="4.2" ry="12.5" transform="rotate(90 823.0 364.4)"/><ellipse cx="823.0" cy="370.3" rx="4.2" ry="12.5" transform="rotate(90 823.0 370.3)"/><ellipse cx="823.0" cy="376.2" rx="4.2" ry="12.5" transform="rotate(90 823.0 376.2)"/><ellipse cx="823.0" cy="382.1" rx="4.2" ry="12.5" transform="rotate(90 823.0 382.1)"/><ellipse cx="823.0" cy="388.0" rx="4.2" ry="12.5" transform="rotate(90 823.0 388.0)"/><ellipse cx="823.0" cy="393.9" rx="4.2" ry="12.5" transform="rotate(90 823.0 393.9)"/><ellipse cx="823.0" cy="399.8" rx="4.2" ry="12.5" transform="rotate(90 823.0 399.8)"/><ellipse cx="823.0" cy="405.7" rx="4.2" ry="12.5" transform="rotate(90 823.0 405.7)"/><ellipse cx="823.0" cy="411.6" rx="4.2" ry="12.5" transform="rotate(90 823.0 411.6)"/><ellipse cx="823.0" cy="417.5" rx="4.2" ry="12.5" transform="rotate(90 823.0 417.5)"/><ellipse cx="823.0" cy="423.4" rx="4.2" ry="12.5" transform="rotate(90 823.0 423.4)"/><ellipse cx="823.0" cy="429.3" rx="4.2" ry="12.5" transform="rotate(90 823.0 429.3)"/><ellipse cx="823.0" cy="435.2" rx="4.2" ry="12.5" transform="rotate(90 823.0 435.2)"/><ellipse cx="823.0" cy="441.1" rx="4.2" ry="12.5" transform="rotate(90 823.0 441.1)"/><ellipse cx="823.0" cy="447.0" rx="4.2" ry="12.5" transform="rotate(90 823.0 447.0)"/><ellipse cx="823.0" cy="452.9" rx="4.2" ry="12.5" transform="rotate(90 823.0 452.9)"/><ellipse cx="823.0" cy="458.8" rx="4.2" ry="12.5" transform="rotate(90 823.0 458.8)"/><ellipse cx="823.0" cy="464.7" rx="4.2" ry="12.5" transform="rotate(90 823.0 464.7)"/><ellipse cx="823.0" cy="470.6" rx="4.2" ry="12.5" transform="rotate(90 823.0 470.6)"/><ellipse cx="823.0" cy="476.5" rx="4.2" ry="12.5" transform="rotate(90 823.0 476.5)"/><ellipse cx="823.0" cy="482.4" rx="4.2" ry="12.5" transform="rotate(90 823.0 482.4)"/><ellipse cx="823.0" cy="488.3" rx="4.2" ry="12.5" transform="rotate(90 823.0 488.3)"/><ellipse cx="823.0" cy="494.2" rx="4.2" ry="12.5" transform="rotate(90 823.0 494.2)"/><ellipse cx="823.0" cy="500.1" rx="4.2" ry="12.5" transform="rotate(90 823.0 500.1)"/><ellipse cx="823.0" cy="506.0" rx="4.2" ry="12.5" transform="rotate(90 823.0 506.0)"/><ellipse cx="823.0" cy="511.9" rx="4.2" ry="12.5" transform="rotate(90 823.0 511.9)"/><ellipse cx="822.8" cy="517.8" rx="4.2" ry="12.5" transform="rotate(97 822.8 517.8)"/><ellipse cx="821.1" cy="523.4" rx="4.2" ry="12.5" transform="rotate(120 821.1 523.4)"/><ellipse cx="816.9" cy="527.6" rx="4.2" ry="12.5" transform="rotate(149 816.9 527.6)"/><ellipse cx="811.4" cy="529.5" rx="4.2" ry="12.5" transform="rotate(170 811.4 529.5)"/></g>
<path d="M556,213 L700,248 Q709,251 709,262 L709,300" fill="none" stroke="#580008" stroke-width="17.4" stroke-linejoin="round"/><g fill="#dc101c" stroke="#580008" stroke-width="1.5"><ellipse cx="556.0" cy="213.0" rx="3.0" ry="8.25" transform="rotate(14 556.0 213.0)"/><ellipse cx="559.7" cy="213.9" rx="3.0" ry="8.25" transform="rotate(14 559.7 213.9)"/><ellipse cx="563.4" cy="214.8" rx="3.0" ry="8.25" transform="rotate(14 563.4 214.8)"/><ellipse cx="567.1" cy="215.7" rx="3.0" ry="8.25" transform="rotate(14 567.1 215.7)"/><ellipse cx="570.8" cy="216.6" rx="3.0" ry="8.25" transform="rotate(14 570.8 216.6)"/><ellipse cx="574.5" cy="217.5" rx="3.0" ry="8.25" transform="rotate(14 574.5 217.5)"/><ellipse cx="578.2" cy="218.4" rx="3.0" ry="8.25" transform="rotate(14 578.2 218.4)"/><ellipse cx="581.8" cy="219.3" rx="3.0" ry="8.25" transform="rotate(14 581.8 219.3)"/><ellipse cx="585.5" cy="220.2" rx="3.0" ry="8.25" transform="rotate(14 585.5 220.2)"/><ellipse cx="589.2" cy="221.1" rx="3.0" ry="8.25" transform="rotate(14 589.2 221.1)"/><ellipse cx="592.9" cy="222.0" rx="3.0" ry="8.25" transform="rotate(14 592.9 222.0)"/><ellipse cx="596.6" cy="222.9" rx="3.0" ry="8.25" transform="rotate(14 596.6 222.9)"/><ellipse cx="600.3" cy="223.8" rx="3.0" ry="8.25" transform="rotate(14 600.3 223.8)"/><ellipse cx="604.0" cy="224.7" rx="3.0" ry="8.25" transform="rotate(14 604.0 224.7)"/><ellipse cx="607.7" cy="225.6" rx="3.0" ry="8.25" transform="rotate(14 607.7 225.6)"/><ellipse cx="611.4" cy="226.5" rx="3.0" ry="8.25" transform="rotate(14 611.4 226.5)"/><ellipse cx="615.1" cy="227.4" rx="3.0" ry="8.25" transform="rotate(14 615.1 227.4)"/><ellipse cx="618.8" cy="228.3" rx="3.0" ry="8.25" transform="rotate(14 618.8 228.3)"/><ellipse cx="622.5" cy="229.2" rx="3.0" ry="8.25" transform="rotate(14 622.5 229.2)"/><ellipse cx="626.2" cy="230.1" rx="3.0" ry="8.25" transform="rotate(14 626.2 230.1)"/><ellipse cx="629.8" cy="230.9" rx="3.0" ry="8.25" transform="rotate(14 629.8 230.9)"/><ellipse cx="633.5" cy="231.8" rx="3.0" ry="8.25" transform="rotate(14 633.5 231.8)"/><ellipse cx="637.2" cy="232.7" rx="3.0" ry="8.25" transform="rotate(14 637.2 232.7)"/><ellipse cx="640.9" cy="233.6" rx="3.0" ry="8.25" transform="rotate(14 640.9 233.6)"/><ellipse cx="644.6" cy="234.5" rx="3.0" ry="8.25" transform="rotate(14 644.6 234.5)"/><ellipse cx="648.3" cy="235.4" rx="3.0" ry="8.25" transform="rotate(14 648.3 235.4)"/><ellipse cx="652.0" cy="236.3" rx="3.0" ry="8.25" transform="rotate(14 652.0 236.3)"/><ellipse cx="655.7" cy="237.2" rx="3.0" ry="8.25" transform="rotate(14 655.7 237.2)"/><ellipse cx="659.4" cy="238.1" rx="3.0" ry="8.25" transform="rotate(14 659.4 238.1)"/><ellipse cx="663.1" cy="239.0" rx="3.0" ry="8.25" transform="rotate(14 663.1 239.0)"/><ellipse cx="666.8" cy="239.9" rx="3.0" ry="8.25" transform="rotate(14 666.8 239.9)"/><ellipse cx="670.5" cy="240.8" rx="3.0" ry="8.25" transform="rotate(14 670.5 240.8)"/><ellipse cx="674.2" cy="241.7" rx="3.0" ry="8.25" transform="rotate(14 674.2 241.7)"/><ellipse cx="677.9" cy="242.6" rx="3.0" ry="8.25" transform="rotate(14 677.9 242.6)"/><ellipse cx="681.5" cy="243.5" rx="3.0" ry="8.25" transform="rotate(14 681.5 243.5)"/><ellipse cx="685.2" cy="244.4" rx="3.0" ry="8.25" transform="rotate(14 685.2 244.4)"/><ellipse cx="688.9" cy="245.3" rx="3.0" ry="8.25" transform="rotate(14 688.9 245.3)"/><ellipse cx="692.6" cy="246.2" rx="3.0" ry="8.25" transform="rotate(14 692.6 246.2)"/><ellipse cx="696.3" cy="247.1" rx="3.0" ry="8.25" transform="rotate(14 696.3 247.1)"/><ellipse cx="700.0" cy="248.0" rx="3.0" ry="8.25" transform="rotate(15 700.0 248.0)"/><ellipse cx="703.4" cy="249.6" rx="3.0" ry="8.25" transform="rotate(34 703.4 249.6)"/><ellipse cx="706.2" cy="252.2" rx="3.0" ry="8.25" transform="rotate(53 706.2 252.2)"/><ellipse cx="708.0" cy="255.5" rx="3.0" ry="8.25" transform="rotate(70 708.0 255.5)"/><ellipse cx="708.8" cy="259.2" rx="3.0" ry="8.25" transform="rotate(83 708.8 259.2)"/><ellipse cx="709.0" cy="263.0" rx="3.0" ry="8.25" transform="rotate(90 709.0 263.0)"/><ellipse cx="709.0" cy="266.8" rx="3.0" ry="8.25" transform="rotate(90 709.0 266.8)"/><ellipse cx="709.0" cy="270.6" rx="3.0" ry="8.25" transform="rotate(90 709.0 270.6)"/><ellipse cx="709.0" cy="274.4" rx="3.0" ry="8.25" transform="rotate(90 709.0 274.4)"/><ellipse cx="709.0" cy="278.2" rx="3.0" ry="8.25" transform="rotate(90 709.0 278.2)"/><ellipse cx="709.0" cy="282.0" rx="3.0" ry="8.25" transform="rotate(90 709.0 282.0)"/><ellipse cx="709.0" cy="285.8" rx="3.0" ry="8.25" transform="rotate(90 709.0 285.8)"/><ellipse cx="709.0" cy="289.6" rx="3.0" ry="8.25" transform="rotate(90 709.0 289.6)"/><ellipse cx="709.0" cy="293.4" rx="3.0" ry="8.25" transform="rotate(90 709.0 293.4)"/><ellipse cx="709.0" cy="297.2" rx="3.0" ry="8.25" transform="rotate(90 709.0 297.2)"/></g>
<path d="M542,217 L600,228 Q612,231 612,242 L612,300" fill="none" stroke="#580008" stroke-width="17.4" stroke-linejoin="round"/><g fill="#dc101c" stroke="#580008" stroke-width="1.5"><ellipse cx="542.0" cy="217.0" rx="3.0" ry="8.25" transform="rotate(11 542.0 217.0)"/><ellipse cx="545.7" cy="217.7" rx="3.0" ry="8.25" transform="rotate(11 545.7 217.7)"/><ellipse cx="549.5" cy="218.4" rx="3.0" ry="8.25" transform="rotate(11 549.5 218.4)"/><ellipse cx="553.2" cy="219.1" rx="3.0" ry="8.25" transform="rotate(11 553.2 219.1)"/><ellipse cx="556.9" cy="219.8" rx="3.0" ry="8.25" transform="rotate(11 556.9 219.8)"/><ellipse cx="560.7" cy="220.5" rx="3.0" ry="8.25" transform="rotate(11 560.7 220.5)"/><ellipse cx="564.4" cy="221.2" rx="3.0" ry="8.25" transform="rotate(11 564.4 221.2)"/><ellipse cx="568.1" cy="222.0" rx="3.0" ry="8.25" transform="rotate(11 568.1 222.0)"/><ellipse cx="571.9" cy="222.7" rx="3.0" ry="8.25" transform="rotate(11 571.9 222.7)"/><ellipse cx="575.6" cy="223.4" rx="3.0" ry="8.25" transform="rotate(11 575.6 223.4)"/><ellipse cx="579.3" cy="224.1" rx="3.0" ry="8.25" transform="rotate(11 579.3 224.1)"/><ellipse cx="583.1" cy="224.8" rx="3.0" ry="8.25" transform="rotate(11 583.1 224.8)"/><ellipse cx="586.8" cy="225.5" rx="3.0" ry="8.25" transform="rotate(11 586.8 225.5)"/><ellipse cx="590.5" cy="226.2" rx="3.0" ry="8.25" transform="rotate(11 590.5 226.2)"/><ellipse cx="594.3" cy="226.9" rx="3.0" ry="8.25" transform="rotate(11 594.3 226.9)"/><ellipse cx="598.0" cy="227.6" rx="3.0" ry="8.25" transform="rotate(11 598.0 227.6)"/><ellipse cx="601.7" cy="228.5" rx="3.0" ry="8.25" transform="rotate(18 601.7 228.5)"/><ellipse cx="605.2" cy="230.0" rx="3.0" ry="8.25" transform="rotate(29 605.2 230.0)"/><ellipse cx="608.2" cy="232.2" rx="3.0" ry="8.25" transform="rotate(44 608.2 232.2)"/><ellipse cx="610.5" cy="235.2" rx="3.0" ry="8.25" transform="rotate(63 610.5 235.2)"/><ellipse cx="611.7" cy="238.8" rx="3.0" ry="8.25" transform="rotate(79 611.7 238.8)"/><ellipse cx="612.0" cy="242.6" rx="3.0" ry="8.25" transform="rotate(90 612.0 242.6)"/><ellipse cx="612.0" cy="246.4" rx="3.0" ry="8.25" transform="rotate(90 612.0 246.4)"/><ellipse cx="612.0" cy="250.2" rx="3.0" ry="8.25" transform="rotate(90 612.0 250.2)"/><ellipse cx="612.0" cy="254.0" rx="3.0" ry="8.25" transform="rotate(90 612.0 254.0)"/><ellipse cx="612.0" cy="257.8" rx="3.0" ry="8.25" transform="rotate(90 612.0 257.8)"/><ellipse cx="612.0" cy="261.6" rx="3.0" ry="8.25" transform="rotate(90 612.0 261.6)"/><ellipse cx="612.0" cy="265.4" rx="3.0" ry="8.25" transform="rotate(90 612.0 265.4)"/><ellipse cx="612.0" cy="269.2" rx="3.0" ry="8.25" transform="rotate(90 612.0 269.2)"/><ellipse cx="612.0" cy="273.0" rx="3.0" ry="8.25" transform="rotate(90 612.0 273.0)"/><ellipse cx="612.0" cy="276.8" rx="3.0" ry="8.25" transform="rotate(90 612.0 276.8)"/><ellipse cx="612.0" cy="280.6" rx="3.0" ry="8.25" transform="rotate(90 612.0 280.6)"/><ellipse cx="612.0" cy="284.4" rx="3.0" ry="8.25" transform="rotate(90 612.0 284.4)"/><ellipse cx="612.0" cy="288.2" rx="3.0" ry="8.25" transform="rotate(90 612.0 288.2)"/><ellipse cx="612.0" cy="292.0" rx="3.0" ry="8.25" transform="rotate(90 612.0 292.0)"/><ellipse cx="612.0" cy="295.8" rx="3.0" ry="8.25" transform="rotate(90 612.0 295.8)"/><ellipse cx="612.0" cy="299.6" rx="3.0" ry="8.25" transform="rotate(90 612.0 299.6)"/></g>
<ellipse cx="461.5" cy="212.5" rx="3.2" ry="8.6" transform="rotate(-13 461.5 212.5)" fill="#fff" stroke="#000" stroke-width="1.3"/><ellipse cx="459.5" cy="237.5" rx="3.2" ry="8.6" transform="rotate(-12 459.5 237.5)" fill="#fff" stroke="#000" stroke-width="1.3"/><ellipse cx="542.5" cy="217" rx="3.2" ry="8.2" transform="rotate(11 542.5 217)" fill="#fff" stroke="#000" stroke-width="1.3"/>
<path d="M288,106.7 Q307,88 332.7,80.4 L339,89.6 L327.1,97.6 L331.5,104.8 L311.5,117.5 L308,109.5 L293.2,115.9 Z" fill="#e3101c"/>
<path d="M619.3,89 Q646,94 666.4,113.1 L661,122.4 L647,116 L644,120 L624,111 L627,106.5 L614.8,96.9 Z" fill="#1d5fb4"/>
<path d="M343.2,301.5 A13,6.5 0 0 0 369.2,301.5 Z" fill="#fff" stroke="#000" stroke-width="2"/><path d="M350.95,297.5 L350.95,304.0 M361.45,297.5 L361.45,304.0" stroke="#000" stroke-width="1.5"/><rect x="351.65" y="297.5" width="9.1" height="7" fill="#fff"/>
<path d="M404.5,507 A13,6.5 0 0 0 430.5,507 Z" fill="#fff" stroke="#000" stroke-width="2"/><path d="M412.25,503 L412.25,509.5 M422.75,503 L422.75,509.5" stroke="#000" stroke-width="1.5"/><rect x="412.95" y="503" width="9.1" height="7" fill="#fff"/>
<path d="M599,301.5 A13,6.5 0 0 0 625,301.5 Z" fill="#fff" stroke="#000" stroke-width="2"/><path d="M606.75,297.5 L606.75,304.0 M617.25,297.5 L617.25,304.0" stroke="#000" stroke-width="1.5"/><rect x="607.45" y="297.5" width="9.1" height="7" fill="#fff"/>
<path d="M696,301.5 A13,6.5 0 0 0 722,301.5 Z" fill="#fff" stroke="#000" stroke-width="2"/><path d="M703.75,297.5 L703.75,304.0 M714.25,297.5 L714.25,304.0" stroke="#000" stroke-width="1.5"/><rect x="704.45" y="297.5" width="9.1" height="7" fill="#fff"/>
<path d="M173,520 A8.5,13.3 0 0 1 173,546.6 Z" fill="#fff" stroke="#000" stroke-width="2"/><rect x="171.5" y="527" width="7" height="12" fill="#fff"/><path d="M171.5,527 L178,527 M171.5,539 L178,539" stroke="#000" stroke-width="1.3"/>
<path d="M805.5,512.5 A9.5,18.8 0 0 0 805.5,550 Z" fill="#fff" stroke="#000" stroke-width="2"/><path d="M803,520 L809,520 M803,541 L809,541" stroke="#000" stroke-width="1.5"/>

<!--FURNITURE-->
<g fill="none" stroke="#000" stroke-width="2" stroke-linejoin="round" stroke-linecap="round">
<!-- bedroom: wardrobe -->
<path d="M175.8,303 L175.8,471" stroke-width="1.6"/>
<rect x="175.8" y="303.4" width="50.6" height="167.2" stroke-width="1.8"/>
<path d="M175.8,350.6 L226.4,350.6" stroke-width="1.8"/>
<rect x="226.4" y="338.5" width="4.4" height="7.6" stroke-width="1.4"/>
<rect x="226.4" y="390.9" width="4.4" height="7.6" stroke-width="1.4"/>
<!-- bed -->
<path d="M253.4,421 L253.4,472 M345.7,421 L345.7,472" stroke-width="3"/>
<ellipse cx="253.4" cy="420.9" rx="4" ry="2.4" fill="#fff" stroke-width="1.6"/>
<ellipse cx="345.7" cy="420.9" rx="4" ry="2.4" fill="#fff" stroke-width="1.6"/>
<path d="M253.4,428.7 Q299.5,419 345.7,428.7" stroke-width="2"/>
<path d="M253.4,441.1 L345.7,441.1 M253.4,457.6 L345.7,457.6" stroke-width="2"/>
<path d="M267,426 L267,441 M282.8,424.2 L282.8,441 M298.5,423.8 L298.5,441 M316.9,424.3 L316.9,441 M331.3,426 L331.3,441" stroke-width="1.8"/>
<!-- lamp -->
<path d="M373.3,407.8 L386.4,407.8 L391.6,430.9 L367.2,430.9 Z" fill="#fff" stroke-width="1.8"/>
<path d="M379.3,430.9 L379.3,447" stroke-width="1.8"/>
<rect x="367.2" y="447.1" width="24.4" height="25" stroke-width="1.8"/>

<!-- bathroom: towel rail -->
<rect x="433" y="316" width="4" height="68.8" fill="#888" stroke-width="1.3"/>
<rect x="437" y="366.8" width="13.5" height="3.8" fill="#888" stroke-width="1.3"/>
<path d="M437,318.5 L446,318.5" stroke-width="1.5"/>
<rect x="442.4" y="322" width="6.6" height="9.4" rx="2" fill="#fff" stroke-width="1.5"/>
<!-- sink -->
<path d="M430.8,403.5 L473.2,403.5 Q465,418 442.3,421 Q431,420 430.8,408 Z" fill="#fff" stroke-width="2"/>
<path d="M438.4,421 L438.4,472 M451.8,421 L459.8,472" stroke-width="2"/>
<path d="M434,400.8 Q437,388 445,387.4 Q447.5,388 447.8,390" stroke-width="1.8"/>
<rect x="431.7" y="399.5" width="6.7" height="4" fill="#fff" stroke-width="1.3"/>
<!-- shower cabin -->
<path d="M579.9,472 L579.9,326.6 L654,326.6 M584.4,472 L584.4,326.6" stroke-width="1.8"/>
<path d="M585.2,445 Q585.2,465.2 600,465.2 L640,465.2 Q652.8,465.2 652.8,448" stroke-width="2"/>
<path d="M623.3,344.6 L631.3,344.6 L638,352.6 L618.5,352.6 Z" fill="#fff" stroke-width="1.8"/>
<path d="M628.6,344.6 L631.3,340.5" stroke-width="1.6"/>
<path d="M644.7,340.5 Q649,342 649.5,346 L650.1,395.5" stroke-width="1.8"/>
<rect x="648.7" y="395.5" width="5.2" height="8" fill="#9aa88e" stroke-width="1.2"/>
<path d="M618,359.3 L606.7,390.1 M627.3,359.3 L623.3,395.5 M636.7,359.3 L640.7,399.5" stroke-width="1.8"/>

<!-- toilet -->
<rect x="790.2" y="399.3" width="17" height="29.6" rx="4.5" fill="#fff" stroke-width="1.8"/>
<path d="M798.8,395.6 L798.8,399.3" stroke-width="1.6"/>
<path d="M746.5,429.7 L807.3,429.7" stroke-width="2"/>
<path d="M747.3,429.7 Q750,446 774,446.7 L765,472 M806.6,431.1 Q801,446 791,446.7 L791,472" stroke-width="2"/>
<path d="M791,451.2 L807,451.2 M791,463.8 L807,463.8" stroke-width="1.8"/>

<!-- dining: fan -->
<path d="M257,508 L272.4,508 L268,514.3 L261.5,514.3 Z" fill="#fff" stroke-width="1.5"/>
<path d="M264.7,514 L264.7,527" stroke-width="3"/>
<path d="M248,537.5 L209,543 L212.5,548.5 L250,542 Z" fill="#fff" stroke-width="1.6"/>
<path d="M278,538.5 L324.3,544 L319.1,548.3 L279,542 Z" fill="#fff" stroke-width="1.6"/>
<ellipse cx="263.9" cy="532.4" rx="15.6" ry="5.4" fill="#fff" stroke-width="1.8"/>
<path d="M258.3,538.5 Q258.5,543.5 264.3,543.5 Q270.2,543.5 270.4,538.5" fill="#fff" stroke-width="1.6"/>
<path d="M258.5,543.3 L255.8,545.5 L251.8,550.3 M257.3,545.2 L257.7,553 M270,543.3 L272.5,545.5 L276.4,550.3 M271.2,545.2 L270.3,553" stroke-width="1.7"/>
<!-- table -->
<rect x="213.6" y="621.4" width="109.9" height="5.2" fill="#fff" stroke-width="1.8"/>
<path d="M260.8,626.6 L260.8,668.6 L250.4,677.6 M269.8,626.6 L269.8,668.6 L281.5,677.6" stroke-width="1.8"/>
<!-- chairs -->
<path d="M197.2,608.9 Q199,615 198,625 Q197,640 207,643.5 L222,643.9 Q227,644 227,647.8" stroke-width="1.8"/>
<path d="M201.1,645.2 L192,678.4 M220.6,646.5 L223.2,678.4 M196.5,664.7 L221.5,664.7" stroke-width="1.8"/>
<path d="M341.2,608.9 Q339.4,615 340.4,625 Q341.4,640 331.4,643.5 L316,643.9 Q310.5,644 310.5,647.8" stroke-width="1.8"/>
<path d="M337.3,645.2 L346.4,678.4 M317.8,646.5 L315.2,678.4 M316.5,664.7 L342,664.7" stroke-width="1.8"/>

<!-- living: fireplace -->
<path d="M468.9,507.3 L464.5,592.1 M510.4,507.3 L515.6,592.1" stroke-width="2"/>
<rect x="456" y="592.1" width="68.2" height="13" fill="#fff" stroke-width="2"/>
<path d="M464.5,605.1 L464.5,642.7 M515.6,605.1 L515.6,642.7" stroke-width="2"/>
<rect x="468.4" y="612.8" width="43.3" height="26.8" stroke-width="2"/>
<path d="M480.5,638.5 Q477,630 481,623 Q484,629 486,628 Q487,620 491,616 Q494,624 496,627 Q499,622 502,620 Q505,630 500,638.5" stroke-width="1.6"/>
<rect x="456" y="642.7" width="68.2" height="12.9" fill="#fff" stroke-width="2"/>
<path d="M464.5,655.6 L464.5,678 M515.6,655.6 L515.6,678" stroke-width="2"/>
<path d="M472.3,678 L472.3,664 Q490,652 507.8,664 L507.8,678" stroke-width="1.8"/>
<g fill="#2c3a2c" stroke="#000" stroke-width="0.8">
<circle cx="484" cy="667.5" r="1.8"/><circle cx="481" cy="671.5" r="1.8"/><circle cx="487" cy="671.5" r="1.8"/>
<circle cx="478" cy="675.5" r="1.8"/><circle cx="484" cy="675.5" r="1.8"/><circle cx="490" cy="675.5" r="1.8"/><circle cx="495" cy="675.5" r="1.6"/>
</g>
<!-- tv table -->
<rect x="399.7" y="627.1" width="43.3" height="7.8" fill="#fff" stroke-width="2"/>
<path d="M409.3,634.9 L402.8,678 M433.9,634.9 L439.1,678 M405,664 L437,664" stroke-width="2"/>
<path d="M406.7,610.2 L424.8,602.5 L424.8,625.8 L406.7,621.9 Z" fill="#fff" stroke-width="1.8"/>
<rect x="424.8" y="598" width="14.3" height="29.1" rx="3" fill="#fff" stroke-width="1.8"/>
<!-- armchair -->
<path d="M582.8,642.3 Q585,621 596.5,618.5 Q607,618.5 606,632 Q603,652 593.5,678" fill="#fff" stroke-width="1.8"/>
<path d="M544.2,662.1 L589.6,658.8 L589.6,645.3 Q560,641 540,641.5 Q533,643 536,650 Q540,656 544.2,662.1 L548,678" fill="#fff" stroke-width="1.8"/>

<!-- kitchen -->
<rect x="644.7" y="507.8" width="26.5" height="46.7" stroke-width="2"/>
<rect x="644.7" y="610.4" width="52.4" height="68.3" stroke-width="2"/>
<path d="M651.7,609 Q656,595 664.7,593.5 Q667,594 667.3,597.4" stroke-width="1.8"/>
<rect x="654.3" y="605.2" width="5.2" height="4.4" fill="#7a9070" stroke-width="1.2"/>
<rect x="737.4" y="610.4" width="68.8" height="68.3" stroke-width="2"/>
<g fill="#000" stroke="none"><circle cx="748.5" cy="620.7" r="2.4"/><circle cx="763.3" cy="620.7" r="2.4"/><circle cx="780.2" cy="620.7" r="2.4"/><circle cx="795.3" cy="620.7" r="2.4"/></g>
<path d="M746.5,627.2 L797.1,627.2" stroke-width="2"/>
<rect x="746" y="635.6" width="51.9" height="34.5" rx="8" stroke-width="2"/>
<rect x="745.2" y="606.2" width="14.3" height="4" stroke-width="1.4"/>
<rect x="784.1" y="606.2" width="14.3" height="4" stroke-width="1.4"/>
<path d="M737.4,588.8 L768.5,588.8 L764.6,606.2 L741.3,606.2 Z" fill="#fff" stroke-width="2"/>
<path d="M712.7,584.4 L737.4,592.2" stroke-width="2"/>
<path d="M743,555.8 Q738,561 741,567 Q746,573 743.9,579.2 M752,555.8 Q747,561 750,567 Q755,573 753,579.2 M761,557 Q756,562 760,568 Q765,574 766,579.2" stroke-width="1.8"/>
</g>
<path d="M277.7,99.1 L276.4,98.8 L275.1,98.5 L273.9,98.2 L272.6,97.8 L271.4,97.4 L270.3,97.0 L269.1,96.5 L267.9,95.9 L266.8,95.4 L265.7,94.8 L264.6,94.1 L263.5,93.5 L262.4,92.7 L261.3,92.0 L260.3,91.2 L258.4,89.7 L261.4,85.9 L240.9,88.6 L255.4,103.4 L253.6,97.9 L253.9,98.4 L255.1,99.5 L256.4,100.6 L257.6,101.6 L258.9,102.5 L260.2,103.5 L261.6,104.4 L263.0,105.2 L264.4,106.0 L265.8,106.7 L267.3,107.4 L268.7,108.1 L270.3,108.7 L271.8,109.3 L273.4,109.8 L274.9,110.3Z" fill="url(#ag0)"/>
<path d="M303.9,74.0 L303.5,72.5 L303.0,70.9 L302.5,69.4 L301.9,67.9 L301.3,66.4 L300.7,65.0 L300.0,63.5 L299.2,62.2 L298.4,60.8 L297.6,59.5 L296.7,58.1 L295.8,56.9 L294.8,55.6 L293.8,54.4 L292.8,53.2 L291.9,52.3 L296.8,52.4 L278.9,41.4 L282.2,62.1 L284.3,58.1 L285.3,59.4 L286.0,60.4 L286.7,61.5 L287.4,62.5 L288.0,63.6 L288.6,64.7 L289.1,65.8 L289.6,66.9 L290.0,68.0 L290.4,69.2 L290.8,70.3 L291.1,71.5 L291.4,72.7 L291.7,73.9 L291.9,75.1 L292.1,76.4Z" fill="url(#ag1)"/>
<path d="M342.8,65.4 L342.3,64.3 L341.8,63.2 L341.4,62.1 L341.0,61.0 L340.7,59.9 L340.3,58.7 L340.1,57.6 L339.8,56.4 L339.6,55.3 L339.5,54.1 L339.4,52.9 L339.3,51.7 L339.2,50.5 L339.2,49.3 L339.3,48.0 L339.4,46.0 L344.2,46.9 L332.0,30.2 L326.0,50.0 L330.0,46.0 L329.7,46.8 L329.4,48.3 L329.2,49.8 L329.0,51.4 L328.9,52.9 L328.9,54.5 L328.8,56.0 L328.9,57.6 L329.0,59.1 L329.1,60.7 L329.3,62.3 L329.6,63.8 L329.9,65.4 L330.3,66.9 L330.7,68.4 L331.2,70.0Z" fill="url(#ag2)"/>
<path d="M614.7,38.0 L615.1,39.2 L615.6,40.3 L616.0,41.5 L616.3,42.7 L616.6,43.9 L616.9,45.1 L617.1,46.3 L617.3,47.6 L617.4,48.8 L617.5,50.0 L617.6,51.3 L617.6,52.5 L617.6,53.8 L617.5,55.1 L617.4,56.4 L617.2,58.2 L612.3,56.6 L622.7,74.1 L630.8,55.4 L626.2,58.8 L626.5,57.8 L626.8,56.2 L627.0,54.7 L627.2,53.1 L627.3,51.5 L627.4,49.9 L627.4,48.4 L627.4,46.8 L627.3,45.2 L627.2,43.7 L627.0,42.1 L626.8,40.5 L626.5,38.9 L626.2,37.4 L625.8,35.8 L625.3,34.2Z" fill="url(#ag3)"/>
<path d="M663.0,50.3 L662.3,51.5 L661.7,52.6 L661.0,53.7 L660.3,54.8 L659.6,55.9 L658.9,57.0 L658.1,58.0 L657.3,59.0 L656.5,60.1 L655.7,61.1 L654.8,62.0 L653.9,63.0 L653.0,64.0 L652.1,64.9 L651.1,65.8 L649.9,67.0 L647.8,62.5 L642.5,82.5 L661.4,74.1 L656.1,73.4 L657.1,72.8 L658.2,71.8 L659.4,70.8 L660.6,69.8 L661.7,68.8 L662.8,67.7 L663.8,66.7 L664.9,65.6 L665.9,64.4 L666.9,63.3 L667.9,62.1 L668.9,60.9 L669.8,59.7 L670.7,58.5 L671.6,57.2 L672.4,55.9Z" fill="url(#ag4)"/>
<path d="M688.3,64.4 L687.6,65.5 L686.9,66.7 L686.2,67.8 L685.4,68.9 L684.7,70.0 L683.9,71.0 L683.1,72.1 L682.2,73.1 L681.4,74.1 L680.5,75.1 L679.6,76.1 L678.7,77.1 L677.7,78.0 L676.7,79.0 L675.7,79.9 L674.4,81.1 L672.4,76.8 L667.6,96.2 L685.8,87.9 L680.6,87.5 L681.5,86.9 L682.7,85.9 L683.9,85.0 L685.1,84.0 L686.3,82.9 L687.4,81.9 L688.5,80.8 L689.6,79.7 L690.6,78.6 L691.7,77.4 L692.7,76.3 L693.6,75.1 L694.6,73.8 L695.5,72.6 L696.5,71.3 L697.3,70.0Z" fill="url(#ag5)"/>
<path d="M348.1,315.0 L348.2,316.2 L348.3,317.5 L348.3,318.8 L348.3,320.1 L348.2,321.3 L348.1,322.6 L348.0,323.8 L347.8,325.1 L347.6,326.3 L347.3,327.5 L347.0,328.8 L346.7,330.0 L346.3,331.2 L345.9,332.4 L345.4,333.6 L344.6,335.5 L340.6,333.1 L346.6,352.5 L358.4,336.0 L353.6,338.5 L354.1,337.7 L354.8,336.3 L355.5,334.8 L356.1,333.3 L356.7,331.9 L357.2,330.3 L357.7,328.8 L358.1,327.3 L358.5,325.7 L358.8,324.1 L359.1,322.6 L359.3,321.0 L359.5,319.3 L359.6,317.7 L359.7,316.1 L359.7,314.4Z" fill="url(#ag6)"/>
<path d="M188.0,536.1 L189.1,536.9 L190.1,537.6 L191.0,538.4 L192.0,539.2 L192.9,540.0 L193.8,540.9 L194.6,541.8 L195.4,542.7 L196.2,543.6 L196.9,544.6 L197.7,545.6 L198.4,546.7 L199.0,547.7 L199.7,548.8 L200.3,549.9 L201.2,551.8 L197.1,553.5 L216.1,560.6 L209.8,541.3 L209.2,546.6 L208.9,545.8 L208.3,544.4 L207.6,543.0 L206.8,541.6 L206.1,540.2 L205.2,538.9 L204.4,537.6 L203.4,536.3 L202.5,535.1 L201.5,533.9 L200.4,532.7 L199.3,531.5 L198.2,530.4 L197.0,529.3 L195.8,528.3 L194.6,527.3Z" fill="url(#ag7)"/>
<path d="M416.9,524.9 L417.1,526.2 L417.2,527.5 L417.2,528.8 L417.2,530.1 L417.2,531.3 L417.1,532.6 L417.0,533.9 L416.9,535.1 L416.7,536.4 L416.5,537.7 L416.2,538.9 L415.9,540.2 L415.5,541.4 L415.1,542.7 L414.7,543.9 L414.0,545.8 L410.0,543.1 L415.7,562.9 L427.9,546.3 L423.0,548.6 L423.5,547.8 L424.2,546.3 L424.9,544.8 L425.5,543.3 L426.0,541.8 L426.5,540.2 L427.0,538.7 L427.4,537.1 L427.7,535.5 L428.0,533.9 L428.2,532.3 L428.4,530.7 L428.6,529.1 L428.7,527.4 L428.7,525.8 L428.7,524.1Z" fill="url(#ag8)"/>
<path d="M614.0,351.8 L613.8,350.5 L613.6,349.2 L613.5,347.9 L613.4,346.6 L613.3,345.3 L613.3,344.1 L613.4,342.8 L613.4,341.5 L613.6,340.2 L613.7,338.9 L613.9,337.6 L614.2,336.3 L614.5,335.1 L614.8,333.8 L615.2,332.5 L615.9,330.3 L619.5,331.7 L610.8,313.8 L603.0,332.1 L606.5,328.5 L606.1,329.1 L605.5,330.6 L604.9,332.1 L604.4,333.7 L603.9,335.3 L603.5,336.8 L603.1,338.4 L602.8,340.0 L602.5,341.6 L602.3,343.2 L602.1,344.9 L602.0,346.5 L601.9,348.2 L601.9,349.8 L602.0,351.5 L602.0,353.2Z" fill="url(#ag9)"/>
<path d="M709.6,352.4 L709.4,351.2 L709.2,350.1 L709.1,348.9 L709.0,347.7 L708.9,346.6 L708.9,345.4 L708.9,344.3 L709.0,343.1 L709.1,342.0 L709.2,340.8 L709.4,339.7 L709.7,338.5 L709.9,337.4 L710.2,336.2 L710.6,335.0 L711.2,333.1 L715.5,335.0 L707.3,315.4 L697.5,334.2 L702.0,331.1 L701.6,331.7 L701.1,333.1 L700.6,334.6 L700.1,336.0 L699.7,337.5 L699.4,339.0 L699.1,340.5 L698.8,342.0 L698.6,343.5 L698.5,345.0 L698.4,346.5 L698.4,348.0 L698.4,349.6 L698.5,351.1 L698.6,352.6 L698.8,354.2Z" fill="url(#ag10)"/>
<path d="M762.4,554.5 L763.2,553.5 L764.0,552.5 L764.8,551.5 L765.7,550.7 L766.6,549.9 L767.5,549.1 L768.5,548.4 L769.5,547.8 L770.5,547.2 L771.5,546.6 L772.6,546.1 L773.8,545.7 L774.9,545.3 L776.2,545.0 L777.4,544.7 L779.8,544.3 L780.6,548.2 L791.4,531.3 L771.6,534.1 L776.6,535.3 L775.9,535.3 L774.1,535.6 L772.4,536.0 L770.8,536.4 L769.1,537.0 L767.5,537.6 L766.0,538.3 L764.4,539.1 L763.0,540.0 L761.5,540.9 L760.1,542.0 L758.8,543.1 L757.5,544.3 L756.3,545.5 L755.1,546.9 L754.0,548.3Z" fill="url(#ag11)"/></svg>
</body></html>
